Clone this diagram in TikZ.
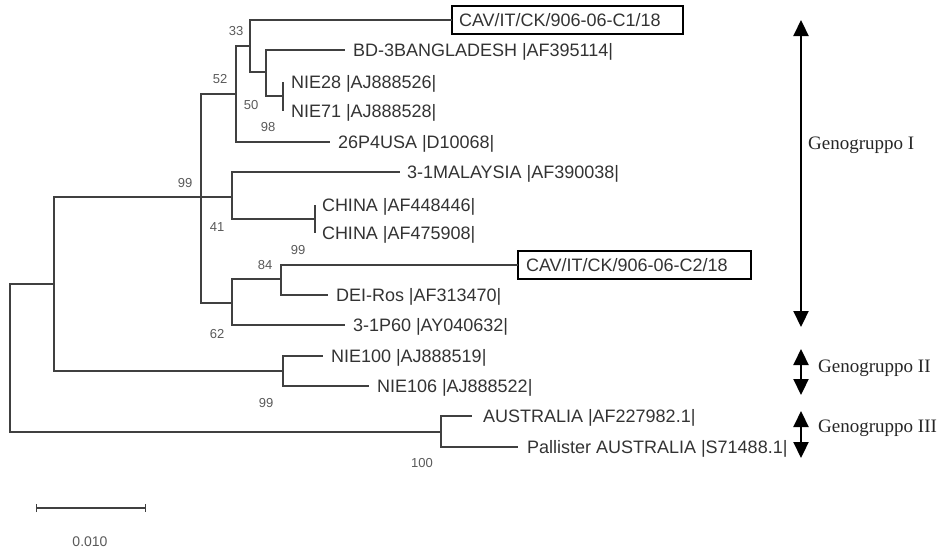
\documentclass[tikz,border=0pt]{standalone}
\usepackage{fontspec}
\setmainfont{Liberation Sans}
\newfontfamily\serifgen{Liberation Serif}
\usetikzlibrary{arrows.meta}
\begin{document}
\begin{tikzpicture}[x=1pt,y=-1pt,
  br/.style={draw=black!75,line width=1.3pt},
  tip/.style={anchor=west,inner xsep=8pt,inner ysep=0pt,outer sep=0pt,text height=13pt,text depth=0pt,font=\fontsize{18}{20}\selectfont,text=black!80},
  boxed/.style={anchor=west,draw=black,line width=2pt,inner xsep=7pt,inner ysep=0pt,outer sep=0pt,minimum height=28pt,text height=13pt,text depth=0pt,align=left,font=\fontsize{18}{20}\selectfont,text=black!80},
  bs/.style={font=\fontsize{13}{14}\selectfont,text=black!65,inner sep=0pt},
  geno/.style={anchor=west,font=\serifgen\fontsize{19}{21}\selectfont,inner sep=0pt,text=black!85},
  garrow/.style={line width=2.2pt,draw=black,{Triangle[length=16pt,width=15pt]}-{Triangle[length=16pt,width=15pt]}}]
\useasboundingbox (0,0) rectangle (947,555);

% tips
\node[boxed,text width=217pt] (tC1) at (452,20) {CAV/IT/CK/906-06-C1/18};
\node[tip] (tBD) at (345,50) {BD-3BANGLADESH |AF395114|};
\node[tip] (tN28) at (283,82) {NIE28 |AJ888526|};
\node[tip] (tN71) at (283,111) {NIE71 |AJ888528|};
\node[tip] (tUSA) at (330,142) {26P4USA |D10068|};
\node[tip,inner xsep=7pt] (tMAL) at (400,172) {3-1MALAYSIA |AF390038|};
\node[tip,inner xsep=7pt] (tCH1) at (315,205) {CHINA |AF448446|};
\node[tip,inner xsep=7pt] (tCH2) at (315,233) {CHINA |AF475908|};
\node[boxed,text width=217pt,inner xsep=8pt] (tC2) at (518,265) {CAV/IT/CK/906-06-C2/18};
\node[tip] (tDEI) at (328,295) {DEI-Ros |AF313470|};
\node[tip] (tP60) at (345,325) {3-1P60 |AY040632|};
\node[tip] (tN100) at (323,356) {NIE100 |AJ888519|};
\node[tip] (tN106) at (369,386) {NIE106 |AJ888522|};
\node[tip,inner xsep=11pt] (tAUS) at (472,416) {AUSTRALIA |AF227982.1|};
\node[tip,inner xsep=9pt] (tPAL) at (518,447) {Pallister AUSTRALIA |S71488.1|};

% internal nodes
\coordinate (nNIE) at (283,96);
\coordinate (nB) at (266,72);
\coordinate (nA) at (250,46);
\coordinate (nC) at (236,94);
\coordinate (nCH) at (315,219);
\coordinate (nMC) at (232,197);
\coordinate (nF) at (281,279);
\coordinate (nE) at (232,303);
\coordinate (nI) at (201,197);
\coordinate (nII) at (283,371);
\coordinate (nG) at (54,284);
\coordinate (nIII) at (441,432);
\coordinate (root) at (10,358);

% branches
\draw[br] (nNIE) |- (tN28.west);
\draw[br] (nNIE) |- (tN71.west);
\draw[br] (nB) |- (tBD.west);
\draw[br] (nB) |- (nNIE);
\draw[br] (nA) |- (tC1.west);
\draw[br] (nA) |- (nB);
\draw[br] (nC) |- (nA);
\draw[br] (nC) |- (tUSA.west);
\draw[br] (nCH) |- (tCH1.west);
\draw[br] (nCH) |- (tCH2.west);
\draw[br] (nMC) |- (tMAL.west);
\draw[br] (nMC) |- (nCH);
\draw[br] (nF) |- (tC2.west);
\draw[br] (nF) |- (tDEI.west);
\draw[br] (nE) |- (nF);
\draw[br] (nE) |- (tP60.west);
\draw[br] (nI) |- (nC);
\draw[br] (nI) -- (nMC);
\draw[br] (nI) |- (nE);
\draw[br] (nII) |- (tN100.west);
\draw[br] (nII) |- (tN106.west);
\draw[br] (nG) |- (nI);
\draw[br] (nG) |- (nII);
\draw[br] (nIII) |- (tAUS.west);
\draw[br] (nIII) |- (tPAL.west);
\draw[br] (root) |- (nG);
\draw[br] (root) |- (nIII);

% bootstrap values
\node[bs] (b33) at (236,31) {33};
\node[bs] (b52) at (220,79) {52};
\node[bs] (b50) at (251,105) {50};
\node[bs] (b98) at (268,127) {98};
\node[bs] (b99a) at (185,183) {99};
\node[bs] (b41) at (217,227) {41};
\node[bs] (b99b) at (298,250) {99};
\node[bs] (b84) at (265,265) {84};
\node[bs] (b62) at (217,334) {62};
\node[bs] (b99c) at (266,403) {99};
\node[bs] (b100) at (422,463) {100};

% scale bar
\coordinate (sb1) at (36,508);
\coordinate (sb2) at (146,508);
\draw[br,{Bar[width=8pt]}-{Bar[width=8pt]}] (sb1) -- (sb2);
\node[bs,font=\fontsize{14}{15}\selectfont] (sblab) at (90,542) {0.010};

% genogroups
\coordinate (g1a) at (801,20);
\coordinate (g1b) at (801,327);
\coordinate (g2a) at (801,349);
\coordinate (g2b) at (801,395);
\coordinate (g3a) at (801,411);
\coordinate (g3b) at (801,458);
\draw[garrow] (g1a) -- (g1b);
\draw[garrow] (g2a) -- (g2b);
\draw[garrow] (g3a) -- (g3b);
\node[geno] (lg1) at (808,145) {Genogruppo I};
\node[geno] (lg2) at (818,368) {Genogruppo II};
\node[geno] (lg3) at (818,428) {Genogruppo III};
\end{tikzpicture}
\end{document}
